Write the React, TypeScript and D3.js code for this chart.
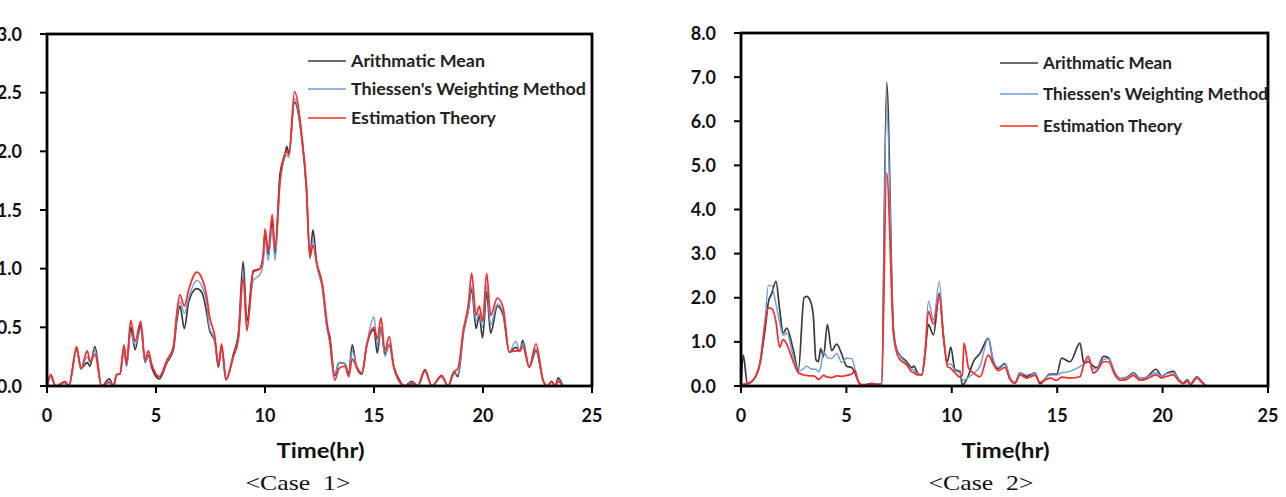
import { useEffect, useRef } from "react";
import * as d3 from "d3";

// Case 1: rainfall time axis (hr) and the three areal-average series
const case1Time = [
  0, 0.17, 0.4, 0.83, 1.0, 1.36, 1.56, 1.85, 1.97, 2.2, 2.5, 2.86, 3.05, 3.2, 3.35, 3.53, 3.65, 3.84, 4.04, 4.3,
  4.5, 4.65, 4.8, 5.15, 5.5, 5.8, 5.95, 6.1, 6.3, 6.5, 6.87, 7.1, 7.33, 7.45, 7.7, 7.86, 8.01, 8.21, 8.55, 8.78,
  9.0, 9.17, 9.46, 9.77, 9.92, 10.0, 10.15, 10.33, 10.46, 10.69, 10.92, 11.0, 11.1, 11.35, 11.68, 11.9, 12.06, 12.2, 12.37, 12.65,
  12.83, 12.97, 13.2, 13.4, 13.67, 13.84, 14.0, 14.2, 14.44, 14.67, 15.0, 15.15, 15.32, 15.5, 15.7, 15.9, 16.2, 16.4, 16.74, 17.0,
  17.34, 17.65, 18.1, 18.4, 18.67, 18.85, 19.1, 19.33, 19.48, 19.68, 19.83, 19.98, 20.17, 20.35, 20.66, 20.93, 21.2, 21.5, 21.7, 21.82,
  22.12, 22.43, 22.77, 22.95, 23.15, 23.3, 23.45, 23.7, 24.0,
];
const case1Arithmatic = [
  0, 0.08, 0, 0.03, 0, 0.31, 0.15, 0.2, 0.17, 0.335, 0, 0.06, 0, 0.1, 0.1, 0.33, 0.17, 0.5, 0.31, 0.52,
  0.2, 0.26, 0.16, 0.06, 0.2, 0.31, 0.55, 0.68, 0.49, 0.72, 0.83, 0.8, 0.62, 0.48, 0.38, 0.16, 0.33, 0.06, 0.27, 0.45,
  1.06, 0.55, 0.98, 1.0, 1.1, 1.3, 1.12, 1.4, 1.12, 1.81, 1.98, 2.04, 1.98, 2.42, 2.12, 1.68, 1.1, 1.33, 1.05, 0.82,
  0.52, 0.42, 0.09, 0.2, 0.19, 0.1, 0.35, 0.16, 0.1, 0.35, 0.48, 0.28, 0.5, 0.27, 0.35, 0.17, 0.04, 0, 0.04, 0,
  0.14, 0, 0.08, 0, 0.12, 0.08, 0.45, 0.65, 0.83, 0.49, 0.6, 0.41, 0.8, 0.45, 0.68, 0.6, 0.29, 0.33, 0.3, 0.39,
  0.16, 0.3, 0.04, 0, 0.04, 0, 0.07, 0, 0,
];
const case1Thiessen = [
  0, 0.08, 0, 0.03, 0, 0.3, 0.14, 0.25, 0.2, 0.3, 0, 0.04, 0, 0.09, 0.1, 0.3, 0.17, 0.45, 0.35, 0.48,
  0.2, 0.25, 0.18, 0.08, 0.21, 0.33, 0.58, 0.72, 0.62, 0.75, 0.9, 0.85, 0.7, 0.5, 0.39, 0.18, 0.32, 0.06, 0.25, 0.42,
  0.95, 0.5, 0.9, 0.95, 1.05, 1.25, 1.07, 1.35, 1.07, 1.72, 1.95, 1.97, 1.95, 2.45, 2.13, 1.7, 1.08, 1.25, 1.03, 0.82,
  0.5, 0.38, 0.1, 0.2, 0.19, 0.09, 0.3, 0.18, 0.11, 0.36, 0.59, 0.35, 0.5, 0.25, 0.36, 0.16, 0.03, 0, 0.03, 0,
  0.12, 0, 0.08, 0, 0.1, 0.1, 0.45, 0.65, 0.85, 0.55, 0.62, 0.5, 0.85, 0.52, 0.7, 0.62, 0.29, 0.38, 0.3, 0.36,
  0.17, 0.32, 0.04, 0, 0.03, 0, 0.05, 0, 0,
];
const case1Estimation = [
  0, 0.1, 0, 0.04, 0, 0.335, 0.15, 0.3, 0.21, 0.27, 0, 0.03, 0, 0.1, 0.1, 0.35, 0.19, 0.56, 0.38, 0.55,
  0.22, 0.3, 0.19, 0.08, 0.22, 0.34, 0.62, 0.78, 0.68, 0.82, 0.97, 0.92, 0.76, 0.6, 0.42, 0.18, 0.36, 0.05, 0.25, 0.4,
  0.92, 0.47, 0.97, 1.0, 1.13, 1.34, 1.15, 1.46, 1.17, 1.75, 1.98, 2.0, 1.97, 2.51, 2.15, 1.7, 1.1, 1.2, 1.05, 0.85,
  0.56, 0.38, 0.05, 0.15, 0.17, 0.08, 0.23, 0.16, 0.11, 0.35, 0.5, 0.4, 0.58, 0.3, 0.42, 0.17, 0.03, 0, 0.02, 0,
  0.13, 0, 0.09, 0, 0.12, 0.15, 0.48, 0.7, 0.96, 0.6, 0.68, 0.55, 0.96, 0.6, 0.75, 0.66, 0.29, 0.3, 0.3, 0.34,
  0.16, 0.36, 0.04, 0, 0.04, 0, 0.04, 0, 0,
];

// Case 2
const case2Time = [
  0, 0.11, 0.3, 0.59, 0.9, 1.14, 1.3, 1.46, 1.66, 1.83, 2.0, 2.17, 2.48, 2.72, 2.99, 3.11, 3.27, 3.43, 3.55, 3.67,
  3.78, 3.91, 4.1, 4.3, 4.54, 4.78, 5.01, 5.25, 5.4, 5.57, 5.7, 6.0, 6.2, 6.5, 6.67, 6.91, 7.23, 7.39, 7.54, 7.86,
  8.1, 8.2, 8.37, 8.57, 8.73, 8.89, 9.13, 9.41, 9.6, 9.79, 9.95, 10.15, 10.39, 10.5, 10.58, 10.8, 11.02, 11.34, 11.73, 11.97,
  12.2, 12.52, 12.76, 13.0, 13.23, 13.55, 13.95, 14.18, 14.66, 14.98, 15.21, 15.61, 16.08, 16.27, 16.48, 16.71, 16.9, 17.2, 17.43, 17.74,
  17.99, 18.3, 18.61, 18.93, 19.24, 19.69, 19.96, 20.2, 20.51, 20.74, 20.98, 21.17, 21.33, 21.62, 21.86, 22.06,
];
const case2Arithmatic = [
  0, 0.7, 0.05, 0.14, 0.52, 1.27, 1.9, 2.1, 2.37, 1.75, 1.2, 1.31, 0.82, 0.35, 2.0, 2.03, 1.95, 1.6, 0.6, 0.55,
  0.85, 0.66, 1.39, 0.8, 0.95, 0.72, 0.45, 0.42, 0.3, 0.1, 0.03, 0.04, 0.06, 0.04, 0.05, 6.88, 1.3, 0.82, 0.7, 0.55,
  0.42, 0.45, 0.3, 0.25, 0.74, 1.39, 1.16, 2.1, 1.12, 0.55, 0.88, 0.37, 0.33, 0.02, 0.05, 0.25, 0.55, 0.74, 1.08, 0.55,
  0.4, 0.5, 0.17, 0.07, 0.29, 0.22, 0.29, 0.05, 0.27, 0.27, 0.63, 0.55, 0.97, 0.51, 0.55, 0.45, 0.42, 0.67, 0.64, 0.29,
  0.17, 0.2, 0.3, 0.17, 0.2, 0.38, 0.22, 0.29, 0.33, 0.17, 0.07, 0.14, 0.05, 0.21, 0.1, 0,
];
const case2Thiessen = [
  0, 0.05, 0.06, 0.15, 0.55, 1.5, 2.28, 2.27, 1.85, 1.45, 1.15, 1.2, 0.67, 0.33, 0.4, 0.45, 0.4, 0.38, 0.38, 0.32,
  0.42, 0.78, 0.65, 0.62, 0.74, 0.53, 0.63, 0.62, 0.4, 0.08, 0.02, 0.02, 0.05, 0.03, 0.05, 6.42, 1.25, 0.8, 0.68, 0.5,
  0.38, 0.35, 0.28, 0.27, 0.8, 1.92, 1.5, 2.37, 1.2, 0.5, 0.5, 0.35, 0.3, 0.15, 0.13, 0.2, 0.28, 0.45, 1.08, 0.59,
  0.42, 0.52, 0.2, 0.08, 0.3, 0.25, 0.3, 0.08, 0.25, 0.25, 0.3, 0.33, 0.44, 0.5, 0.6, 0.38, 0.4, 0.6, 0.62, 0.28,
  0.17, 0.2, 0.28, 0.17, 0.2, 0.3, 0.22, 0.28, 0.3, 0.16, 0.06, 0.12, 0.04, 0.2, 0.1, 0,
];
const case2Estimation = [
  0, 0.03, 0.05, 0.14, 0.5, 1.4, 1.77, 1.75, 1.45, 0.88, 1.05, 0.95, 0.55, 0.3, 0.25, 0.24, 0.23, 0.23, 0.2, 0.15,
  0.18, 0.24, 0.2, 0.19, 0.23, 0.22, 0.24, 0.27, 0.35, 0.1, 0.02, 0.02, 0.05, 0.03, 0, 4.83, 1.2, 0.75, 0.6, 0.48,
  0.32, 0.3, 0.25, 0.25, 0.7, 1.69, 1.4, 2.03, 1.15, 0.45, 0.4, 0.3, 0.2, 0.25, 0.97, 0.4, 0.3, 0.21, 0.7, 0.5,
  0.35, 0.42, 0.15, 0.06, 0.25, 0.18, 0.24, 0.08, 0.18, 0.13, 0.2, 0.18, 0.21, 0.5, 0.67, 0.29, 0.35, 0.55, 0.55, 0.25,
  0.13, 0.15, 0.24, 0.13, 0.16, 0.25, 0.18, 0.22, 0.25, 0.13, 0.05, 0.1, 0.03, 0.18, 0.08, 0,
];

const xTicks = [0, 5, 10, 15, 20, 25];
const case1YTicks = [0, 0.5, 1.0, 1.5, 2.0, 2.5, 3.0];
const case2YTicks = [0, 1, 2, 3, 4, 5, 6, 7, 8];
const legendLabels = ["Arithmatic Mean", "Thiessen's Weighting Method", "Estimation Theory"];
const seriesColors = ["#3a3a3a", "#6e9bd6", "#ff2a2a"];

type Panel = {
  left: number; right: number; top: number; bottom: number;
  yMax: number; yTicks: number[]; time: number[]; series: number[][];
  caption: string; captionX: number; legendX: number; legendY: number[]; legendLen: number[];
};

const panels: Panel[] = [
  {
    left: 47, right: 592, top: 34, bottom: 386, yMax: 3, yTicks: case1YTicks,
    time: case1Time, series: [case1Arithmatic, case1Thiessen, case1Estimation],
    caption: "<Case  1>", captionX: 298, legendX: 308, legendY: [61, 89, 118], legendLen: [134, 235, 145],
  },
  {
    left: 741, right: 1268, top: 33, bottom: 386, yMax: 8, yTicks: case2YTicks,
    time: case2Time, series: [case2Arithmatic, case2Thiessen, case2Estimation],
    caption: "<Case  2>", captionX: 981, legendX: 1000, legendY: [63, 94, 126], legendLen: [129, 225, 139],
  },
];

export default function App() {
  const ref = useRef<SVGSVGElement>(null);

  useEffect(() => {
    const svg = d3.select(ref.current);
    svg.selectAll("*").remove();
    const font = "Lato, 'Open Sans', sans-serif";

    panels.forEach((p) => {
      const x = d3.scaleLinear().domain([0, 25]).range([p.left, p.right]);
      const y = d3.scaleLinear().domain([0, p.yMax]).range([p.bottom, p.top]);
      const g = svg.append("g");

      const line = d3.line<number>()
        .x((_, i) => x(p.time[i]))
        .y((d) => y(d))
        .curve(d3.curveMonotoneX);

      p.series.forEach((s, k) => {
        g.append("path").attr("d", line(s)).attr("fill", "none")
          .attr("stroke", seriesColors[k]).attr("stroke-width", k === 1 ? 1.4 : 1.7)
          .attr("stroke-linejoin", "round");
      });

      // frame
      g.append("rect").attr("x", p.left).attr("y", p.top)
        .attr("width", p.right - p.left).attr("height", p.bottom - p.top)
        .attr("fill", "none").attr("stroke", "#000").attr("stroke-width", 2.8);

      // x ticks + labels
      g.selectAll("line.xt").data(xTicks).join("line")
        .attr("x1", (d) => x(d)).attr("x2", (d) => x(d))
        .attr("y1", p.bottom).attr("y2", p.bottom + 7)
        .attr("stroke", "#000").attr("stroke-width", 2);
      g.selectAll("text.xl").data(xTicks).join("text")
        .attr("x", (d) => x(d)).attr("y", p.bottom + 36)
        .attr("text-anchor", "middle").attr("font-family", font).attr("font-weight", 700)
        .attr("font-size", 18).attr("fill", "#111").text((d) => d);

      // y ticks + labels
      g.selectAll("line.yt").data(p.yTicks).join("line")
        .attr("x1", p.left - 7).attr("x2", p.left)
        .attr("y1", (d) => y(d)).attr("y2", (d) => y(d))
        .attr("stroke", "#000").attr("stroke-width", 2);
      g.selectAll("text.yl").data(p.yTicks).join("text")
        .attr("x", p.left - 25).attr("y", (d) => y(d) + 6.5)
        .attr("text-anchor", "end").attr("font-family", font).attr("font-weight", 700)
        .attr("font-size", 18).attr("fill", "#111").text((d) => d.toFixed(1));

      // axis title and caption
      const cx = (p.left + p.right) / 2;
      g.append("text").attr("x", cx + 1).attr("y", p.bottom + 72).attr("text-anchor", "middle")
        .attr("font-family", font).attr("font-weight", 700).attr("font-size", 20)
        .attr("textLength", 88).attr("lengthAdjust", "spacingAndGlyphs")
        .attr("fill", "#111").text("Time(hr)");
      g.append("text").attr("x", p.captionX).attr("y", p.bottom + 104).attr("text-anchor", "middle")
        .attr("font-family", "'Liberation Serif', 'DejaVu Serif', serif").attr("font-size", 22)
        .attr("textLength", 105).attr("lengthAdjust", "spacingAndGlyphs")
        .attr("fill", "#111").attr("xml:space", "preserve").text(p.caption);

      // legend
      legendLabels.forEach((label, k) => {
        const ly = p.legendY[k];
        g.append("line").attr("x1", p.legendX).attr("x2", p.legendX + 38)
          .attr("y1", ly).attr("y2", ly).attr("stroke", seriesColors[k]).attr("stroke-width", 1.7);
        g.append("text").attr("x", p.legendX + 43).attr("y", ly + 6)
          .attr("font-family", font).attr("font-weight", 700).attr("font-size", 17)
          .attr("fill", "#222").attr("textLength", p.legendLen[k]).attr("lengthAdjust", "spacingAndGlyphs")
          .text(label);
      });
    });
  }, []);

  return (
    <svg ref={ref} width={1286} height={497} viewBox="0 0 1286 497"
      style={{ position: "absolute", left: 0, top: 0, background: "#fff" }} />
  );
}
